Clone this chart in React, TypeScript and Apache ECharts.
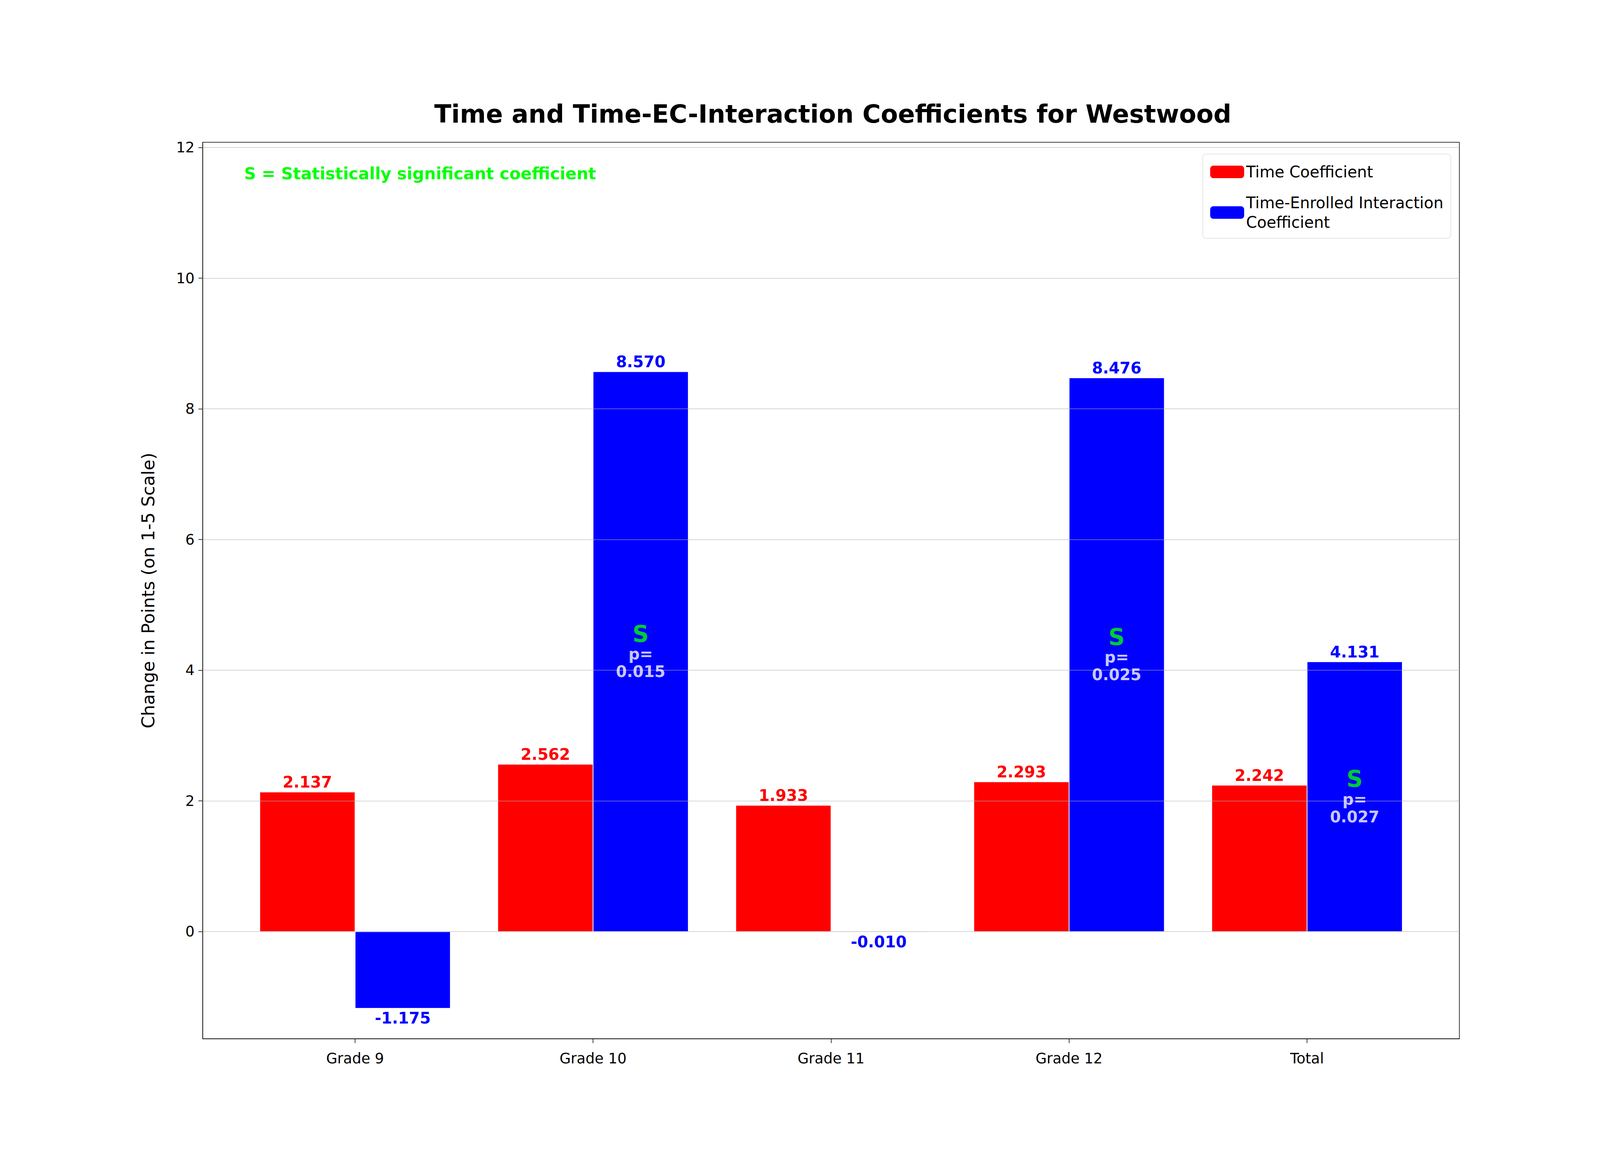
import React, { useEffect, useRef } from 'react';
import * as echarts from 'echarts';

const categories = ['Grade 9', 'Grade 10', 'Grade 11', 'Grade 12', 'Total'];
const timeCoef = [2.137, 2.562, 1.933, 2.293, 2.242];
const interactionCoef = [-1.175, 8.57, -0.01, 8.476, 4.131];
const significance = [
  { idx: 1, p: '0.015' },
  { idx: 3, p: '0.025' },
  { idx: 4, p: '0.027' },
];
const yTicks = [0, 2, 4, 6, 8, 10, 12];

const RED = '#ff0000';
const BLUE = '#0000ff';
const GREEN = '#00ff00';
const FONT = 'DejaVu Sans';

const App = () => {
  const ref = useRef<HTMLDivElement>(null);

  useEffect(() => {
    document.body.style.margin = '0';
    if (!ref.current) return;
    const W = ref.current.clientWidth;
    const H = ref.current.clientHeight;
    // layout measured on a 1546 x 906 copy of the reference
    const sx = W / 1546;
    const sy = H / 906;
    const f = (n: number) => Math.round(n * sx);
    const chart = echarts.init(ref.current, undefined, { renderer: 'svg' });

    const barLabel = (color: string, v: number, i: number) => ({
      value: [i, v],
      label: {
        show: true,
        position: v < 0 ? 'bottom' : 'top',
        distance: f(2),
        formatter: v.toFixed(3),
        color,
        fontWeight: 'bold',
        fontSize: f(15),
        fontFamily: FONT,
      },
    });

    chart.setOption({
      animation: false,
      backgroundColor: '#fff',
      textStyle: { fontFamily: FONT },
      title: {
        text: 'Time and Time-EC-Interaction Coefficients for Westwood',
        left: f(803),
        top: 77 * sy,
        textAlign: 'center',
        textStyle: { fontSize: f(24), fontWeight: 'bold', color: '#000', fontFamily: FONT },
      },
      legend: {
        orient: 'vertical',
        right: f(144),
        top: 119 * sy,
        itemWidth: f(33),
        itemHeight: f(12),
        itemGap: f(11),
        padding: [f(8), f(7), f(6), f(7)],
        borderColor: '#cccccc',
        borderWidth: 1,
        borderRadius: f(3),
        textStyle: { fontSize: f(15), color: '#000', fontFamily: FONT, lineHeight: f(19) },
        formatter: (n: string) =>
          n === 'Time-Enrolled Interaction Coefficient' ? 'Time-Enrolled Interaction\nCoefficient' : n,
        data: [
          { name: 'Time Coefficient', itemStyle: { borderWidth: 0 } },
          { name: 'Time-Enrolled Interaction Coefficient', itemStyle: { borderWidth: 0 } },
        ],
      },
      graphic: [
        {
          type: 'text',
          left: f(236),
          top: 128 * sy,
          style: {
            text: 'S = Statistically significant coefficient',
            fill: GREEN,
            font: `bold ${f(16)}px "${FONT}"`,
          },
        },
      ],
      grid: {
        left: f(196),
        right: W - f(1410),
        top: 110 * sy,
        bottom: H - 803 * sy,
        show: true,
        borderColor: '#000',
        borderWidth: 1.5,
        containLabel: false,
      },
      xAxis: {
        type: 'value',
        min: -0.64,
        max: 4.64,
        splitLine: { show: false },
        axisLine: { onZero: false, lineStyle: { color: '#000', width: 1.5 } },
        axisTick: { customValues: [0, 1, 2, 3, 4], length: f(4), lineStyle: { color: '#000', width: 1.5 } },
        axisLabel: {
          customValues: [0, 1, 2, 3, 4],
          formatter: (v: number) => categories[Math.round(v)] ?? '',
          fontSize: f(14),
          color: '#000',
          margin: f(12),
          fontFamily: FONT,
        },
      },
      yAxis: {
        type: 'value',
        min: -1.64,
        max: 12.08,
        name: 'Change in Points (on 1-5 Scale)',
        nameLocation: 'middle',
        nameGap: f(44),
        nameTextStyle: { fontSize: f(17), color: '#000', fontFamily: FONT },
        splitLine: { show: false },
        axisLine: { show: true, onZero: false, lineStyle: { color: '#000', width: 1.5 } },
        axisTick: { show: true, customValues: yTicks, length: f(4), lineStyle: { color: '#000', width: 1.5 } },
        axisLabel: {
          customValues: yTicks,
          fontSize: f(14),
          color: '#000',
          margin: f(8),
          fontFamily: FONT,
        },
      },
      series: [
        {
          type: 'line',
          data: [],
          z: 1,
          silent: true,
          markLine: {
            silent: true,
            symbol: 'none',
            label: { show: false },
            lineStyle: { color: '#b0b0b0', width: 1.2, type: 'solid' },
            data: yTicks.map((y) => ({ yAxis: y })),
          },
        },
        {
          name: 'Time Coefficient',
          type: 'bar',
          z: 2,
          barWidth: f(92),
          barGap: '0%',
          itemStyle: { color: RED, borderColor: '#fff', borderWidth: 1 },
          data: timeCoef.map((v, i) => barLabel(RED, v, i)),
        },
        {
          name: 'Time-Enrolled Interaction Coefficient',
          type: 'bar',
          z: 2,
          barWidth: f(92),
          barGap: '0%',
          itemStyle: { color: BLUE, borderColor: '#fff', borderWidth: 1 },
          data: interactionCoef.map((v, i) => barLabel(BLUE, v, i)),
        },
        {
          type: 'scatter',
          z: 5,
          symbolSize: 0,
          silent: true,
          data: significance.map((s) => ({
            value: [s.idx + 0.2, interactionCoef[s.idx] / 2],
            label: {
              show: true,
              position: 'inside',
              formatter: `{s|S}\n{p|p=}\n{p|${s.p}}`,
              rich: {
                s: { color: GREEN, fontSize: f(22), fontWeight: 'bold', fontFamily: FONT, lineHeight: f(22), align: 'center' },
                p: { color: '#ffffff', fontSize: f(15), fontWeight: 'bold', fontFamily: FONT, lineHeight: f(17), align: 'center' },
              },
            },
          })),
        },
      ],
    });

    return () => chart.dispose();
  }, []);

  return <div ref={ref} style={{ width: '100vw', height: '100vh' }} />;
};

export default App;
